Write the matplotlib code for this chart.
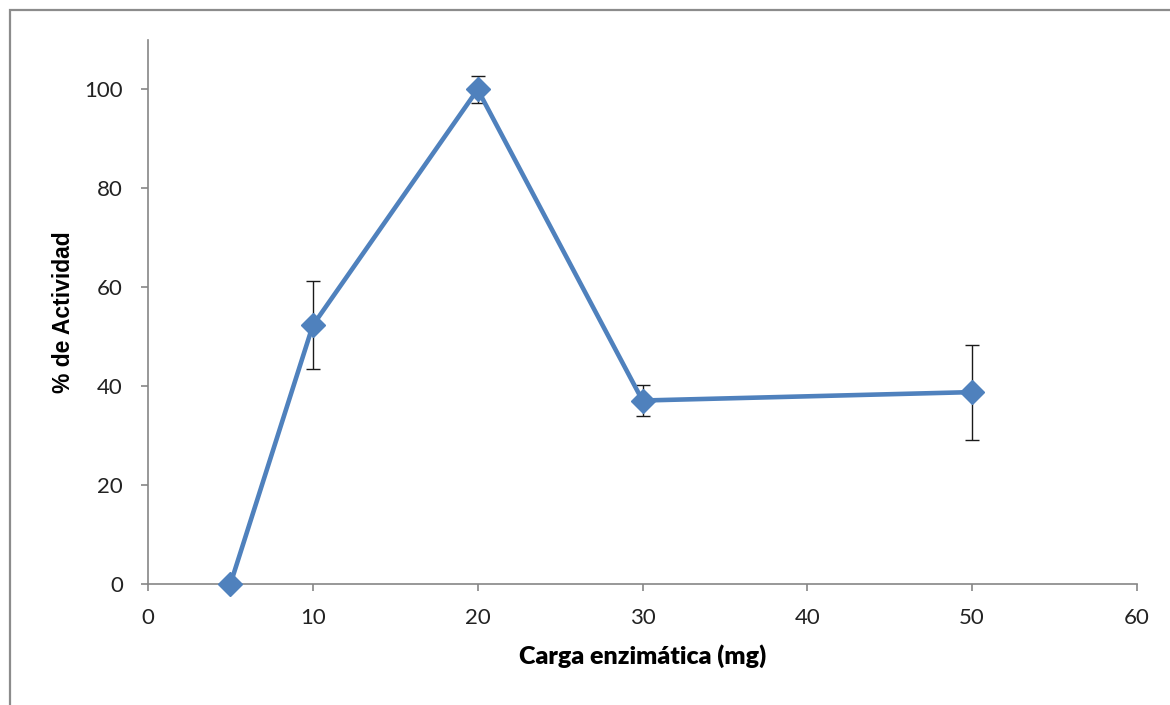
import matplotlib.pyplot as plt
from matplotlib.patches import Rectangle

# enzyme load (mg) vs relative activity (%)
carga = [5, 10, 20, 30, 50]
actividad = [0, 52.3, 100, 37.1, 38.8]
error = [0, 8.9, 2.7, 3.1, 9.6]

xticks = [0, 10, 20, 30, 40, 50, 60]
yticks = [0, 20, 40, 60, 80, 100]

fig = plt.figure(figsize=(11.7, 7.05), dpi=100)
ax = fig.add_axes([148/1170, 121/705, 989/1170, 544/705])

# outer chart frame
fig.patches.append(Rectangle((10/1170, -0.05), 1.2, (695/705) + 0.05,
                             transform=fig.transFigure, fill=False,
                             edgecolor='#8c8c8c', linewidth=1.6))

ax.errorbar(carga, actividad, yerr=error, fmt='none', ecolor='#1a1a1a',
            elinewidth=1.0, capsize=5, capthick=1.0, zorder=2)
ax.plot(carga, actividad, color='#4f81bd', linewidth=3.3, marker='D',
        markersize=12, markerfacecolor='#4f81bd', markeredgecolor='#4f81bd',
        zorder=3, clip_on=False)

ax.set_xlim(0, 60)
ax.set_ylim(0, 110)
ax.set_xticks(xticks)
ax.set_yticks(yticks)

for s in ['top', 'right']:
  ax.spines[s].set_visible(False)
for s in ['left', 'bottom']:
  ax.spines[s].set_color('#868686')
  ax.spines[s].set_linewidth(1.2)

ax.tick_params(direction='out', length=5, width=1.2, color='#868686',
               labelsize=16, labelcolor='#222222')
ax.tick_params(axis='x', pad=12)
ax.tick_params(axis='y', pad=13)
for lbl in ax.get_xticklabels() + ax.get_yticklabels():
  lbl.set_fontfamily('Lato')

ax.set_xlabel('Carga enzimática (mg)', fontsize=18, fontweight='heavy',
              family='Lato', labelpad=12)
ax.set_ylabel('% de Actividad', fontsize=16.5, fontweight='bold',
              family='Liberation Sans', labelpad=7)

fig.savefig('out.png', dpi=100, facecolor='white')
